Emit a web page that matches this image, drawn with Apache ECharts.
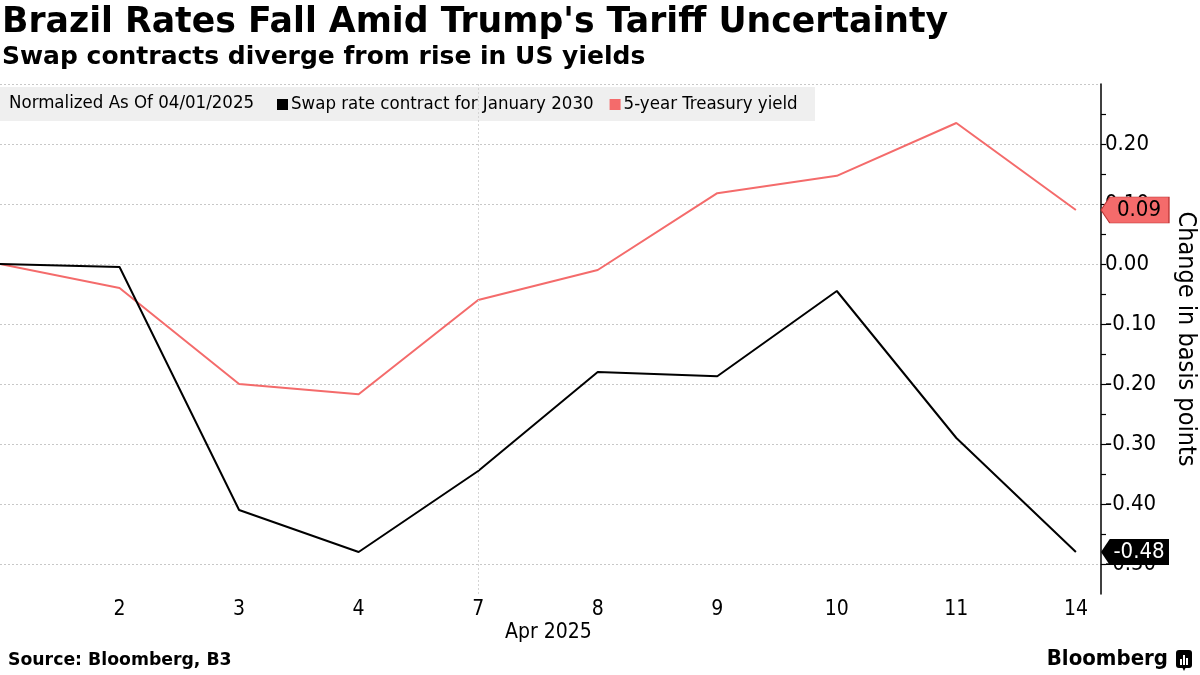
<!DOCTYPE html>
<html><head><meta charset="utf-8">
<script src="https://cdn.jsdelivr.net/npm/echarts@6/dist/echarts.min.js"></script>
<style>html,body{margin:0;padding:0;background:#fff}#c{width:1200px;height:675px}</style>
</head><body><div id="c"></div>
<script>
const days = ['1','2','3','4','7','8','9','10','11','14'];
const swap = [0.00, -0.005, -0.41, -0.48, -0.345, -0.18, -0.187, -0.045, -0.29, -0.48];
const treasury = [0.00, -0.04, -0.20, -0.217, -0.06, -0.01, 0.118, 0.147, 0.235, 0.09];
const yRange = [-0.55, 0.30];
const F = '"DejaVu Sans Condensed","Liberation Sans Narrow","DejaVu Sans",sans-serif';
const FW = '"DejaVu Sans",Verdana,sans-serif';
const RED = '#f46b6b';
const XMAX = 9.21;

const chart = echarts.init(document.getElementById('c'), null, {renderer:'canvas'});
function endMark(color, textColor, val){
  return {
    symbol: 'path://M0,13 L9,0 L70,0 L70,26 L9,26 Z',
    symbolSize: [68, 26], symbolOffset: [34, 0], symbolKeepAspect: false,
    silent: true,
    itemStyle: {color: color, borderColor: color === '#000' ? '#000' : '#b33', borderWidth: color === '#000' ? 0 : 0.8},
    label: {show: true, position: 'inside', offset: [4, 0], color: textColor, fontFamily: F, fontSize: 22,
            formatter: () => val.toFixed(2)},
    data: [{coord: [XMAX, val]}]
  };
}
chart.setOption({
  animation: false,
  textStyle: {fontFamily: F},
  grid: {left: 0, right: 99, top: 84, bottom: 81, containLabel: false, outerBoundsMode: 'none'},
  xAxis: {
    type: 'value', min: 0, max: XMAX, interval: 1,
    axisLine: {show: false}, axisTick: {show: false}, splitLine: {show: false},
    axisLabel: {color: '#000', fontSize: 21, fontFamily: F, margin: 5, showMaxLabel: false,
      formatter: v => (v === 0 ? '' : (days[v] ?? ''))}
  },
  yAxis: {
    type: 'value', position: 'right', min: yRange[0], max: yRange[1], interval: 0.05,
    axisLine: {show: true, onZero: false, lineStyle: {color: '#000', width: 1.5}},
    axisTick: {show: true, length: 5, inside: false, lineStyle: {color: '#000', width: 1.2}},
    splitLine: {show: true, lineStyle: {color: ['rgba(0,0,0,0)', '#c8c8c8'], type: [2, 2], width: 1}},
    axisLabel: {color: '#000', fontSize: 22, fontFamily: F, margin: 4,
      showMaxLabel: false, showMinLabel: false,
      formatter: v => (Math.abs(Math.round(v * 100)) % 10 === 0 ? v.toFixed(2) : '')},
    name: 'Change in basis points', nameLocation: 'middle', nameRotate: -90, nameGap: 72,
    nameTextStyle: {color: '#000', fontSize: 25, fontFamily: F}
  },
  series: [
    {name: 'Swap rate contract for January 2030', type: 'line', symbol: 'none',
     lineStyle: {color: '#000', width: 2}, itemStyle: {color: '#000'},
     data: swap.map((v, i) => [i, v]), z: 3,
     markPoint: endMark('#000', '#fff', swap[swap.length - 1]),
     markLine: {silent: true, symbol: 'none', label: {show: false},
       lineStyle: {color: '#d4d4d4', type: [2, 2], width: 1}, data: [{xAxis: 4}]}},
    {name: '5-year Treasury yield', type: 'line', symbol: 'none',
     lineStyle: {color: RED, width: 2}, itemStyle: {color: RED},
     data: treasury.map((v, i) => [i, v]), z: 2,
     markPoint: endMark(RED, '#000', treasury[treasury.length - 1])}
  ],
  legend: {
    left: 272, top: 90, itemWidth: 11, itemHeight: 11, itemGap: 16, icon: 'rect',
    textStyle: {color: '#000', fontSize: 18.5, fontFamily: F, padding: [0, 0, 0, -2]},
    selectedMode: false, z: 10,
    data: ['Swap rate contract for January 2030', '5-year Treasury yield']
  },
  graphic: [
    {type: 'rect', left: 0, top: 87, z: 5, shape: {width: 815, height: 34}, style: {fill: '#efefef'}},
    {type: 'text', left: 9, top: 94, z: 6, style: {text: 'Normalized As Of 04/01/2025', fill: '#000', font: '18.5px ' + F}},
    {type: 'text', left: 2, top: 5, style: {text: "Brazil Rates Fall Amid Trump's Tariff Uncertainty", fill: '#000', font: 'bold 34.7px ' + FW}},
    {type: 'text', left: 2, top: 45, style: {text: 'Swap contracts diverge from rise in US yields', fill: '#000', font: 'bold 25px ' + FW}},
    {type: 'text', left: 505, top: 622, style: {text: 'Apr 2025', fill: '#000', font: '21px ' + F}},
    {type: 'text', left: 8, top: 652, style: {text: 'Source: Bloomberg, B3', fill: '#000', font: 'bold 17.3px ' + FW}},
    {type: 'text', right: 32, top: 648, style: {text: 'Bloomberg', fill: '#000', font: 'bold 22px ' + F}},
    {type: 'group', right: 8, top: 650, children: [
      {type: 'rect', shape: {x: 0, y: 0, width: 16, height: 18, r: 3}, style: {fill: '#000'}},
      {type: 'polygon', shape: {points: [[6, 17], [10, 17], [8, 21]]}, style: {fill: '#000'}},
      {type: 'rect', shape: {x: 4, y: 9, width: 2, height: 6}, style: {fill: '#fff'}},
      {type: 'rect', shape: {x: 7, y: 5, width: 2, height: 10}, style: {fill: '#fff'}},
      {type: 'rect', shape: {x: 10, y: 8, width: 2, height: 7}, style: {fill: '#fff'}}
    ]}
  ]
});
</script></body></html>
